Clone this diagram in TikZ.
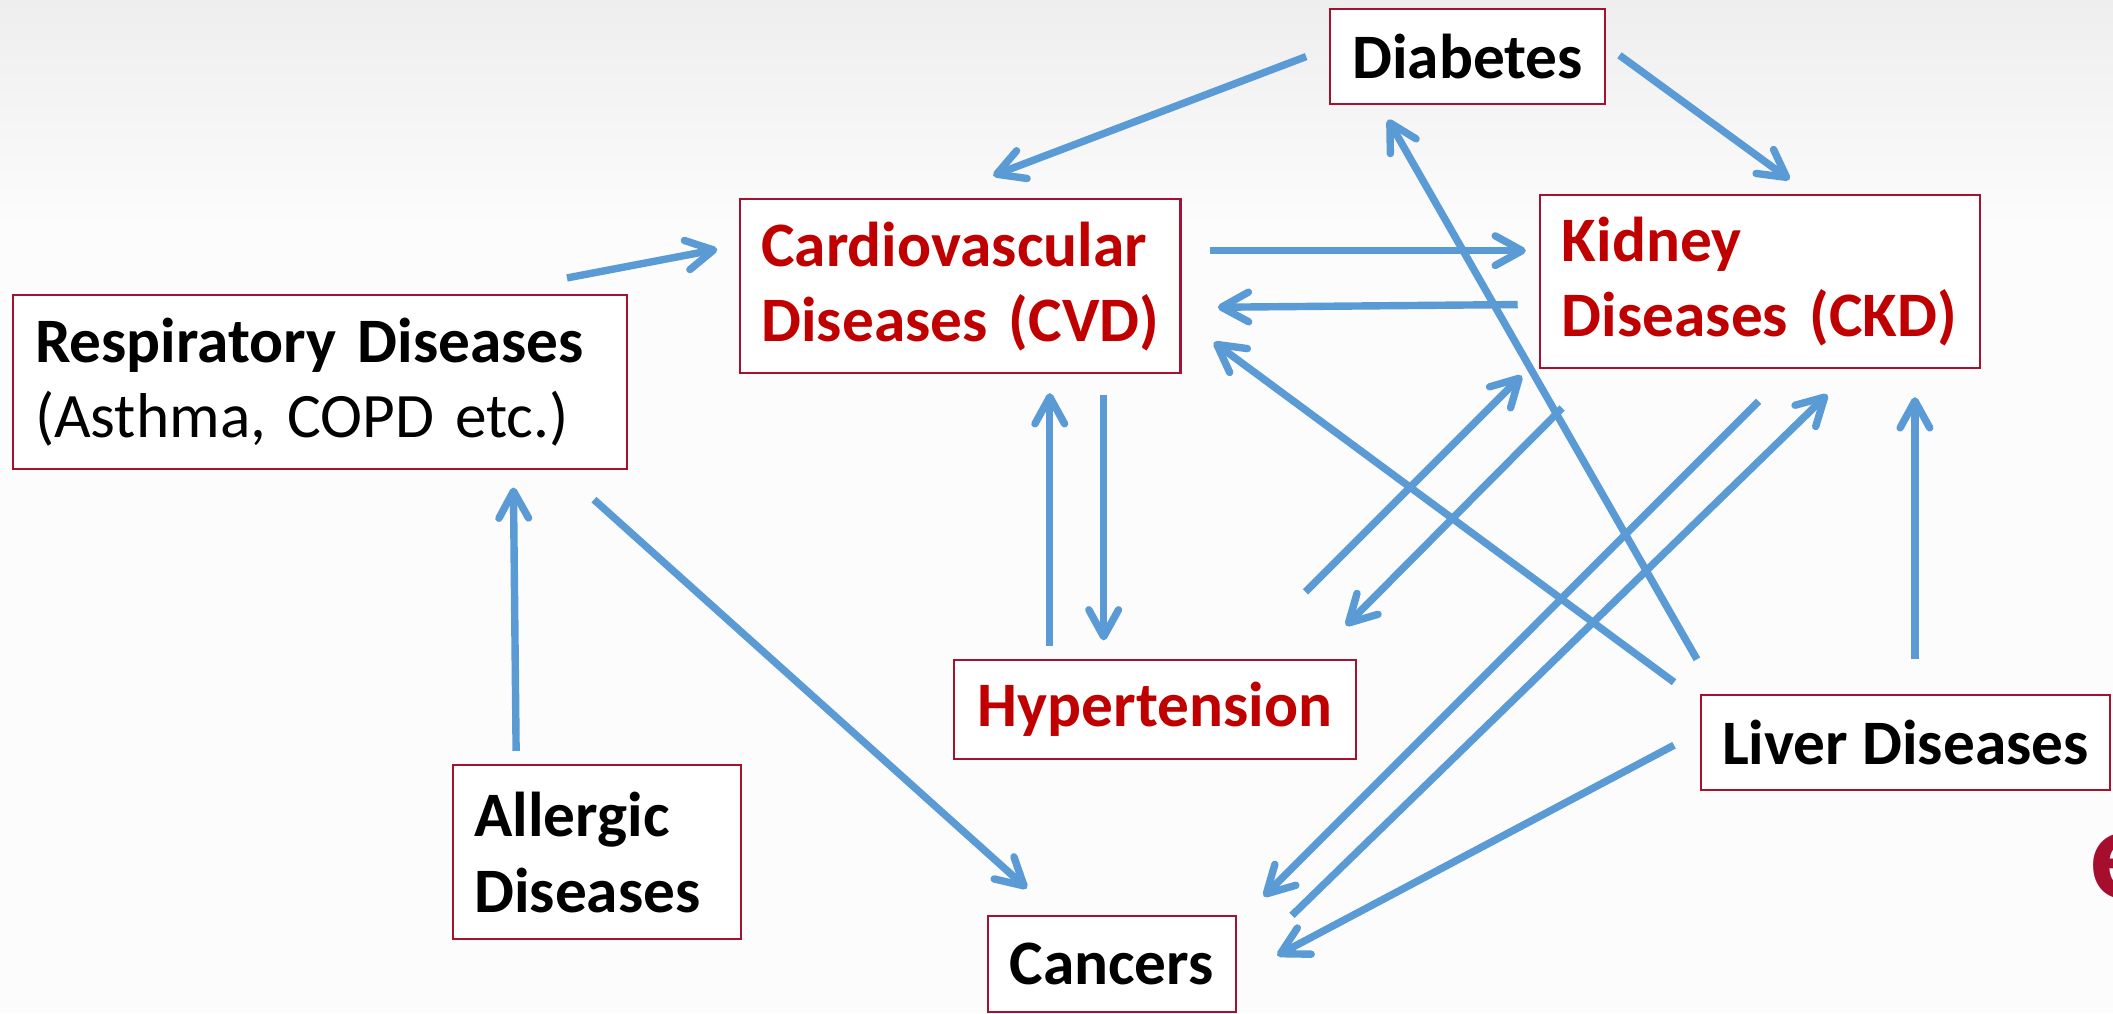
\documentclass[tikz,border=0pt]{standalone}
\usepackage{fontspec}
\setmainfont{Carlito}
\usetikzlibrary{arrows.meta, calc}
\definecolor{linkblue}{HTML}{5B9BD5}
\definecolor{boxred}{HTML}{A5122F}
\definecolor{textred}{HTML}{C00000}
\definecolor{bgtop}{HTML}{EEEEEE}
\definecolor{bgbottom}{HTML}{FCFCFC}
\definecolor{logored}{HTML}{A50F2D}

\begin{document}
\begin{tikzpicture}[x=1pt, y=-1pt,
  box/.style={rectangle, draw=boxred, line width=1.5pt, fill=white, inner sep=0pt, font=\fontsize{47}{56}\selectfont\bfseries},
  multi/.style={box, align=left, inner xsep=16pt},
  risk/.style={text=textred},
  link/.style={draw=linkblue, line width=5.5pt, -{Straight Barb[length=20pt, width=22pt, round]}}
]
  \useasboundingbox (0,0) rectangle (1568,752);
  \fill[bgbottom] (0,0) rectangle (1568,752);
  \shade[top color=bgtop, bottom color=bgbottom] (0,0) rectangle (1568,170);

  \node[box, minimum width=204pt, minimum height=70pt] (diabetes) at (1089,42) {Diabetes};
  \node[multi, risk, text width=295pt, minimum height=129pt] (cvd) at (712.5,212.5) {Cardiovascular\\Diseases~(CVD)};
  \node[multi, risk, text width=294pt, minimum height=128pt] (ckd) at (1306,209) {Kidney\\Diseases~(CKD)};
  \node[multi, text width=423pt, minimum height=129pt] (resp) at (237.5,283.5) {Respiratory~Diseases\\\mdseries(Asthma,~COPD~etc.)};
  \node[box, risk, minimum width=298pt, minimum height=73pt] (hyper) at (857,526.5) {Hypertension};
  \node[box, minimum width=304pt, minimum height=70pt] (liver) at (1414,551) {Liver Diseases};
  \node[multi, text width=182pt, minimum height=129pt] (allergic) at (443,632.5) {Allergic\\Diseases};
  \node[box, minimum width=184pt, minimum height=71pt] (cancers) at (825,715.5) {Cancers};
  \node[inner sep=0pt, anchor=base west, text=logored, font=\fontsize{98}{98}\selectfont\bfseries] (logo) at (1550,667) {e};

  \draw[link] ($(diabetes.west)+(-17,0)$) -- ($(cvd.north)+(24.5,-17)$);
  \draw[link] ($(diabetes.east)+(10,-1)$) -- ($(ckd.north)+(22,-11)$);
  \draw[link] ($(resp.north east)+(-45,-12)$) -- ($(cvd.west)+(-16,-27.5)$);
  \draw[link] ($(cvd.east)+(21,-26.5)$) -- ($(ckd.west)+(-10,-23)$);
  \draw[link] ($(ckd.west)+(-16,17)$) -- ($(cvd.east)+(27,15.5)$);
  \draw[link] ($(hyper.north)+(-78,-10)$) -- ($(cvd.south)+(66.5,14)$);
  \draw[link] ($(cvd.south)+(106.5,15)$) -- ($(hyper.north)+(-38,-14)$);
  \draw[link] ($(hyper.north east)+(-38,-50)$) -- ($(ckd.south west)+(-13,5)$);
  \draw[link] ($(ckd.south west)+(17,29)$) -- ($(hyper.north east)+(-8,-25)$);
  \draw[link] ($(liver.north west)+(-2,-26)$) -- ($(diabetes.south)+(-59,11)$);
  \draw[link] ($(liver.north west)+(-19,-9)$) -- ($(cvd.east)+(24,41.5)$);
  \draw[link] ($(ckd.south)+(-1,24)$) -- ($(cancers.north east)+(20,-14)$);
  \draw[link] ($(cancers.north east)+(41,0)$) -- ($(ckd.south)+(50,19)$);
  \draw[link] ($(liver.north)+(7,-26)$) -- ($(ckd.south)+(115,21)$);
  \draw[link] ($(liver.west)+(-19,2)$) -- ($(cancers.east)+(30,-6.5)$);
  \draw[link] ($(resp.south east)+(-25,22)$) -- ($(cancers.north)+(-63,-20)$);
  \draw[link] ($(allergic.north)+(-60,-10)$) -- ($(resp.south)+(143.5,13)$);
\end{tikzpicture}
\end{document}
